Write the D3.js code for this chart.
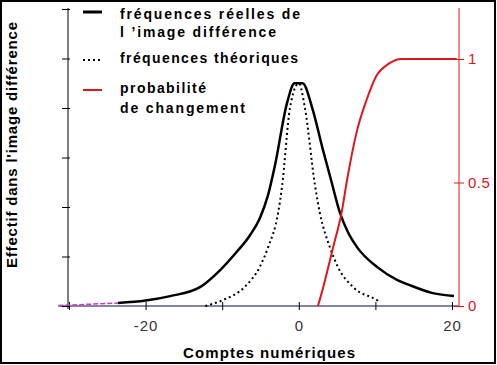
<!DOCTYPE html>
<html>
<head>
<meta charset="utf-8">
<script src="https://cdn.jsdelivr.net/npm/d3@7"></script>
<style>
  body { margin: 0; background: #fff; }
  svg { display: block; font-family: Arial, "Liberation Sans", sans-serif; }
</style>
</head>
<body>
<svg id="chart" width="497" height="365"></svg>
<script>
// fréquences réelles (solid black)
const realX = [-23.6, -20, -16.8, -12.9, -10.3, -8.07, -6.37, -5.07, -4.02, -3.1, -1.54, -0.55, 0.5, 1.72, 3.16, 4.2, 5.38, 6.42, 7.6, 10.2, 12.82, 14.5, 17.5, 20.26];
const realY = [0.06, 0.11, 0.2, 0.38, 0.72, 1.1, 1.43, 1.78, 2.24, 2.85, 4.1, 4.5, 4.5, 4.02, 3.15, 2.55, 1.88, 1.49, 1.19, 0.79, 0.53, 0.42, 0.26, 0.2];
// fréquences théoriques (dotted)
const theoX = [-12.2, -9.9, -7.1, -5.1, -4.0, -2.7, -2.2, -1.15, 0, 0.8, 2.1, 2.75, 4.05, 5.1, 7.1, 10.2, 10.6];
const theoY = [0.0, 0.12, 0.38, 0.79, 1.19, 1.88, 2.4, 4.0, 4.5, 4.0, 2.45, 1.88, 1.19, 0.79, 0.38, 0.12, 0.08];
// probabilité de changement (red, right axis)
const probX = [2.5, 3.2, 4.5, 5.6, 6.3, 7.6, 8.8, 10.1, 11.7, 13.4, 20.6];
const probY = [0, 0.077, 0.24, 0.38, 0.51, 0.71, 0.83, 0.93, 0.98, 1.0, 1.0];
// queue gauche (magenta dashed)
const tailX = [-31.4, -23.6];
const tailY = [0.01, 0.06];

const xTicks = [-30, -20, -10, 0, 10, 20];
const xTickLabels = ["", "-20", "", "0", "", "20"];
const leftTicks = [0, 1, 2, 3, 4, 5, 6];
const rightTicks = [0, 0.5, 1];
const rightTickLabels = ["0", "0.5", "1"];

const legendItems = ["fréquences réelles de", "l \u2019image différence", "fréquences théoriques", "probabilité", "de changement"];
const legendWidths = [180, 156, 178, 86, 125];

const svg = d3.select("#chart");

const x = d3.scaleLinear().domain([-30, 20]).range([69, 452]);
const y = d3.scaleLinear().domain([0, 6]).range([306, 9]);
const yr = d3.scaleLinear().domain([0, 1.2]).range([306, 9.6]);

// border
svg.append("rect").attr("x", 1).attr("y", 1).attr("width", 494).attr("height", 362)
    .attr("fill", "none").attr("stroke", "black").attr("stroke-width", 2);

// x axis
const xAxis = svg.append("g").attr("transform", "translate(0,306)")
    .call(d3.axisBottom(x).tickValues(xTicks).tickSize(4).tickFormat((d, i) => xTickLabels[i]));
xAxis.select(".domain").remove();
xAxis.append("line").attr("x1", x(-31.4)).attr("x2", x(20.9)).attr("y1", 0).attr("y2", 0)
    .attr("stroke", "#0a0a48").attr("stroke-width", 1.2);
xAxis.selectAll(".tick line").attr("y1", -4).attr("y2", 4).attr("stroke", "black");
xAxis.selectAll(".tick text").attr("y", 14).attr("dy", "0.71em")
    .attr("font-size", 15).attr("letter-spacing", 1)
    .attr("font-family", "Arial, 'Liberation Sans', sans-serif").attr("fill", "#333");

// left axis (no labels)
const yAxis = svg.append("g").attr("transform", "translate(68,0)")
    .call(d3.axisLeft(y).tickValues(leftTicks).tickSize(6).tickFormat(""));
yAxis.select(".domain").attr("d", "M0,8V309").attr("stroke", "black");
yAxis.selectAll(".tick line").attr("x1", -6).attr("x2", 2).attr("stroke", "black");

// right axis (red)
const red = "#e0161d";
const rAxis = svg.append("g").attr("transform", "translate(459,0)")
    .call(d3.axisRight(yr).tickValues(rightTicks).tickSize(5).tickFormat((d, i) => rightTickLabels[i]));
rAxis.select(".domain").attr("d", "M0,8V306").attr("stroke", red);
rAxis.selectAll(".tick line").attr("x1", -5).attr("x2", 5).attr("stroke", red);
rAxis.selectAll(".tick text").attr("x", 9).attr("font-size", 15).attr("letter-spacing", 0.5)
    .attr("font-family", "Arial, 'Liberation Sans', sans-serif").attr("fill", red);

// curves
const line = d3.line().x(d => x(d[0])).y(d => y(d[1])).curve(d3.curveMonotoneX);
const lineR = d3.line().x(d => x(d[0])).y(d => yr(d[1])).curve(d3.curveMonotoneX);

svg.append("path").datum(d3.zip(tailX, tailY)).attr("d", line)
    .attr("fill", "none").attr("stroke", "#c040c8").attr("stroke-width", 1.5).attr("stroke-dasharray", "5,2");
svg.append("path").datum(d3.zip(theoX, theoY)).attr("d", line)
    .attr("fill", "none").attr("stroke", "black").attr("stroke-width", 2).attr("stroke-dasharray", "2,3");
svg.append("path").datum(d3.zip(realX, realY)).attr("d", line)
    .attr("fill", "none").attr("stroke", "black").attr("stroke-width", 2.5);
svg.append("path").datum(d3.zip(probX, probY)).attr("d", lineR)
    .attr("fill", "none").attr("stroke", red).attr("stroke-width", 2);

// legend
const leg = svg.append("g");
leg.append("line").attr("x1", 83).attr("x2", 102).attr("y1", 12).attr("y2", 12).attr("stroke", "black").attr("stroke-width", 3);
leg.append("line").attr("x1", 83).attr("x2", 103).attr("y1", 60).attr("y2", 60).attr("stroke", "black").attr("stroke-width", 2).attr("stroke-dasharray", "2,3");
leg.append("line").attr("x1", 83).attr("x2", 102).attr("y1", 90).attr("y2", 90).attr("stroke", red).attr("stroke-width", 2);

const legY = [19, 37, 63, 93, 113];
leg.selectAll("text.leg").data(legendItems).enter().append("text")
    .attr("class", "leg")
    .attr("x", 120).attr("y", (d, i) => legY[i])
    .attr("font-size", 14).attr("font-weight", "bold")
    .attr("textLength", (d, i) => legendWidths[i]).attr("lengthAdjust", "spacing")
    .text(d => d);

// axis titles
svg.append("text").attr("x", 183).attr("y", 358)
    .attr("font-size", 15).attr("font-weight", "bold")
    .attr("textLength", 172).attr("lengthAdjust", "spacing")
    .text("Comptes numériques");
svg.append("text").attr("transform", "translate(17,268) rotate(-90)")
    .attr("font-size", 15).attr("font-weight", "bold")
    .attr("textLength", 246).attr("lengthAdjust", "spacing")
    .text("Effectif dans l'image différence");
</script>
</body>
</html>
